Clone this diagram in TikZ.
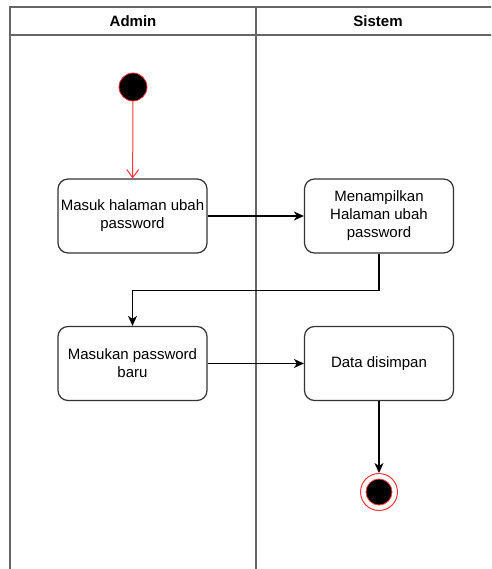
\documentclass[tikz,border=0pt]{standalone}
\usepackage{fontspec}
\setmainfont{Liberation Sans}
\usetikzlibrary{arrows.meta}
\definecolor{lanegray}{HTML}{666666}
\definecolor{boxgray}{HTML}{333333}
\definecolor{umlred}{HTML}{FF3333}
\begin{document}
\begin{tikzpicture}[x=1pt,y=-1pt,
  lane/.style={draw=lanegray,line width=1.6pt},
  actbox/.style={draw=boxgray,line width=1.2pt,rounded corners=10pt,minimum width=149pt,minimum height=74pt,align=center,font=\fontsize{15pt}{18pt}\selectfont,inner sep=2pt},
  flow/.style={draw=black,line width=1.2pt,-{Stealth[length=10pt,width=9pt,inset=3pt]}},
  redflow/.style={draw=umlred,line width=1pt,-{Straight Barb[length=8pt,width=12pt]}},
  lanetitle/.style={font=\fontsize{15pt}{18pt}\selectfont\bfseries}
]
\useasboundingbox (0,0) rectangle (491,569);
\fill[white] (0,0) rectangle (491,569);
\clip (0,0) rectangle (491,569);
% swimlanes
\coordinate (tl) at (10,7);
\draw[lane] (10,580) -- (10,7) -- (500,7);
\draw[lane] (10,35) -- (500,35);
\draw[lane] (256,7) -- (256,580);
\node[lanetitle] (t1) at (133,21) {Admin};
\node[lanetitle] (t2) at (378,21) {Sistem};
% nodes
\node[circle,fill=black,draw=umlred,line width=0.8pt,minimum size=28pt,inner sep=0pt] (start) at (133,87) {};
\node[actbox] (b1) at (132.5,216) {Masuk halaman ubah\\password};
\node[actbox] (b2) at (379,216) {Menampilkan\\Halaman ubah\\password};
\node[actbox] (b3) at (132.5,363.5) {Masukan password\\baru};
\node[actbox] (b4) at (379,363.5) {Data disimpan};
\node[circle,draw=umlred,fill=white,line width=1pt,minimum size=37pt,inner sep=0pt] (end) at (379,492) {};
\node[circle,fill=black,draw=umlred,line width=0.8pt,minimum size=26pt,inner sep=0pt] (endin) at (end.center) {};
% connectors
\draw[redflow] (start) -- (b1);
\draw[flow] (b1) -- (b2);
\draw[flow] (b2.south) -- ++(0,37) -| (b3.north);
\draw[flow] (b3) -- (b4);
\draw[flow] (b4) -- (end);
\end{tikzpicture}
\end{document}
